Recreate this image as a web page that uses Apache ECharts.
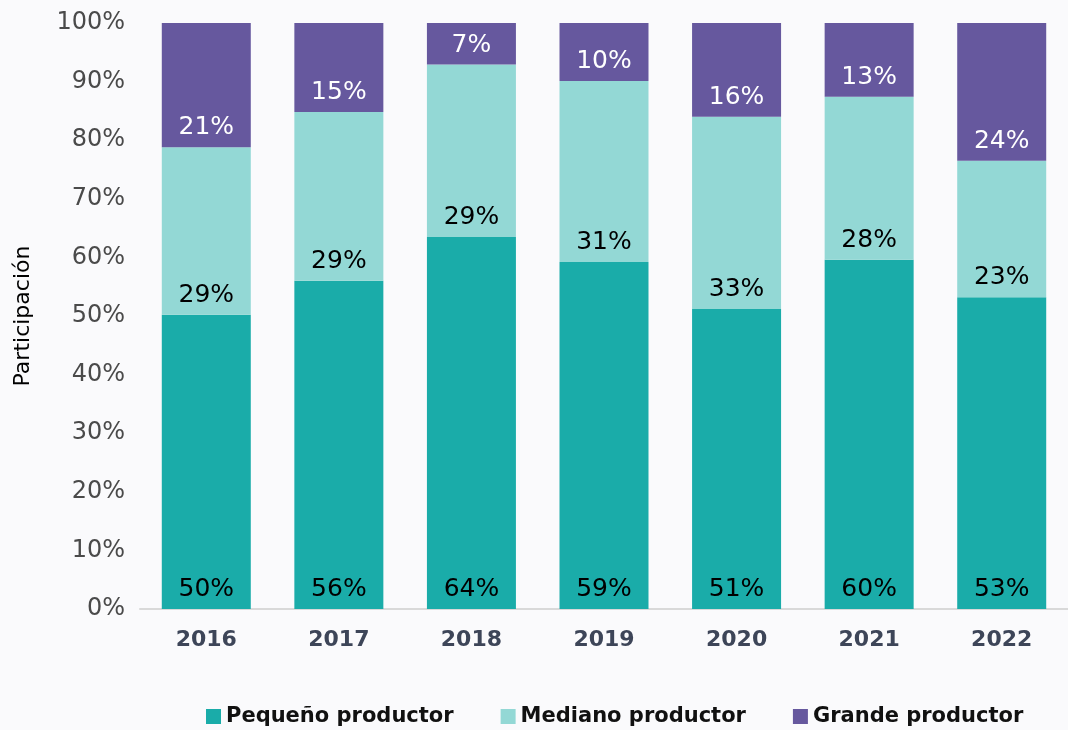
<!DOCTYPE html>
<html>
<head>
<meta charset="utf-8">
<script src="https://cdn.jsdelivr.net/npm/echarts@6/dist/echarts.min.js"></script>
<style>
  html, body { margin: 0; padding: 0; background: #fafafc; }
  #chart { width: 1068px; height: 730px; }
</style>
</head>
<body>
<div id="chart"></div>
<script>
var years = ['2016', '2017', '2018', '2019', '2020', '2021', '2022'];
var pequeno = [50.2, 56.0, 63.5, 59.2, 51.2, 59.6, 53.2];
var mediano = [28.6, 28.8, 29.4, 30.9, 32.8, 27.8, 23.3];
var grande = [21.2, 15.2, 7.1, 9.9, 16.0, 12.6, 23.5];
var seriesNames = ['Pequeño productor', 'Mediano productor', 'Grande productor'];
var colors = ['#1aaca9', '#93d8d5', '#66589e'];
var fontFam = '"DejaVu Sans", sans-serif';

var myChart = echarts.init(document.getElementById('chart'));

function makeSeries(name, data, color, labelColor) {
    return {
        name: name,
        type: 'bar',
        stack: 'total',
        data: data,
        barWidth: 89,
        itemStyle: { color: color },
        label: {
            show: true,
            position: 'insideBottom',
            distance: 7,
            color: labelColor,
            fontSize: 25,
            fontFamily: fontFam,
            formatter: function (p) { return Math.round(p.value) + '%'; }
        }
    };
}

var option = {
    backgroundColor: '#fafafc',
    color: colors,
    textStyle: { fontFamily: fontFam },
    grid: { left: 140, top: 23, width: 937, bottom: 121 },
    legend: {
        bottom: -2,
        left: 201,
        itemWidth: 15,
        itemHeight: 15,
        itemGap: 47,
        icon: 'rect',
        textStyle: { fontSize: 21, color: '#111', fontWeight: 'bold', fontFamily: fontFam },
        data: seriesNames
    },
    xAxis: {
        type: 'category',
        data: years,
        axisLine: { lineStyle: { color: '#d9d9d9', width: 2 } },
        axisTick: { show: false },
        axisLabel: { fontSize: 22, fontWeight: 'bold', color: '#3d4558', margin: 20, fontFamily: fontFam }
    },
    yAxis: {
        type: 'value',
        min: 0,
        max: 100,
        interval: 10,
        name: 'Participación',
        nameLocation: 'middle',
        nameGap: 106,
        nameTextStyle: { fontSize: 22, color: '#000', fontFamily: fontFam },
        splitLine: { show: false },
        axisLine: { show: false },
        axisLabel: { fontSize: 24, color: '#4a4a4a', margin: 15, formatter: '{value}%', fontFamily: fontFam }
    },
    series: [
        makeSeries(seriesNames[0], pequeno, colors[0], '#000'),
        makeSeries(seriesNames[1], mediano, colors[1], '#000'),
        makeSeries(seriesNames[2], grande, colors[2], '#fff')
    ]
};

myChart.setOption(option);
</script>
</body>
</html>
